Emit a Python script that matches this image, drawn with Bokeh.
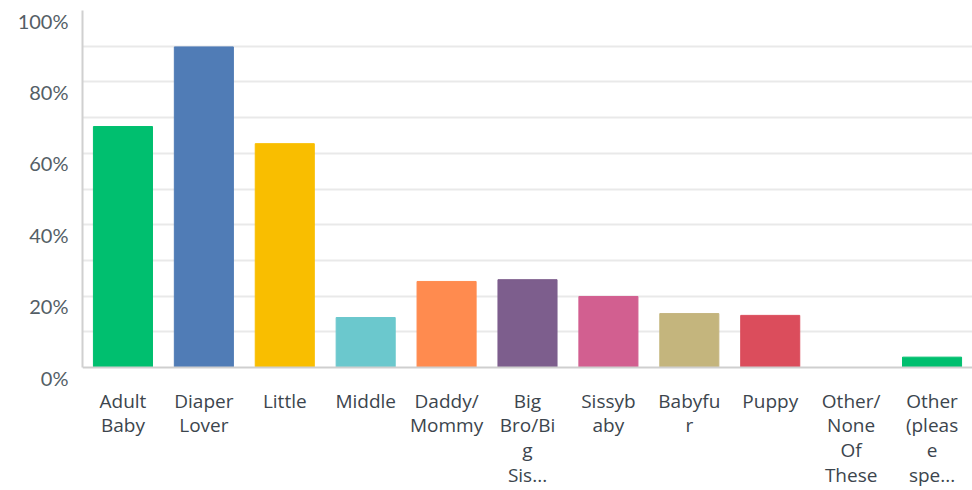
from bokeh.plotting import figure
from bokeh.models import FactorRange, Range1d, LinearAxis, FixedTicker, Span, ColumnDataSource, NumeralTickFormatter
from bokeh.embed import file_html
from bokeh.resources import INLINE

categories = ["Adult\nBaby", "Diaper\nLover", "Little", "Middle", "Daddy/\nMommy",
              "Big\nBro/Bi\ng\nSis...", "Sissyb\naby", "Babyfu\nr", "Puppy",
              "Other/\nNone\nOf\nThese", "Other\n(pleas\ne\nspe..."]
values = [0.675, 0.898, 0.627, 0.140, 0.241, 0.246, 0.199, 0.151, 0.146, 0.0, 0.029]
colors = ["#00BF6F", "#507CB6", "#F9BE00", "#6BC8CD", "#FF8B4F", "#7D5E8D",
          "#D25F90", "#C4B57D", "#DB4D5C", "#7AC2DD", "#00BF6F"]
y_ticks = [0, 0.2, 0.4, 0.6, 0.8, 1.0]
grid_ticks = [0.1, 0.2, 0.3, 0.4, 0.5, 0.6, 0.7, 0.8, 0.9]

frame_h = 367
d = 10 / 357.0  # label offset below grid, in data units

src = ColumnDataSource(dict(cat=categories, val=values, color=colors))

p = figure(x_range=FactorRange(*categories, range_padding=0),
           y_range=Range1d(-d, 1.0),
           frame_width=890, frame_height=frame_h,
           min_border_left=82, min_border_right=0, min_border_top=10, min_border_bottom=5,
           output_backend="svg", toolbar_location=None)
p.outline_line_color = None
p.background_fill_color = "white"

p.vbar(x="cat", top="val", bottom=0, width=0.73, color="color", source=src)

# grid
p.xgrid.visible = False
p.ygrid.ticker = FixedTicker(ticks=grid_ticks)
p.ygrid.grid_line_color = "#e9e9e9"
p.ygrid.grid_line_width = 2

# baseline
p.add_layout(Span(location=0, dimension="width", line_color="#cfcfcf", line_width=2))

# main y axis: just the line
ya = p.yaxis[0]
ya.ticker = FixedTicker(ticks=[])
ya.bounds = (0, 1.0)
ya.axis_line_color = "#d0d0d0"
ya.axis_line_width = 2
ya.major_tick_line_color = None
ya.minor_tick_line_color = None
ya.major_tick_out = 0
ya.major_tick_in = 0
ya.major_label_standoff = 0

# label axis, shifted a little below the grid lines
p.extra_y_ranges = {"lab": Range1d(0, 1.0 + d)}
la = LinearAxis(y_range_name="lab", ticker=FixedTicker(ticks=y_ticks),
                formatter=NumeralTickFormatter(format="0%"))
la.axis_line_color = None
la.major_tick_line_color = None
la.minor_tick_line_color = None
la.major_tick_out = 0
la.major_tick_in = 0
la.major_label_standoff = 14
la.major_label_text_font = "Lato"
la.major_label_text_font_size = "20px"
la.major_label_text_color = "#545e66"
p.add_layout(la, "left")

# x axis
xa = p.xaxis[0]
xa.axis_line_color = None
xa.major_tick_line_color = None
xa.minor_tick_line_color = None
xa.major_tick_out = 0
xa.major_tick_in = 0
xa.major_label_standoff = 10
xa.major_label_text_font = "Open Sans"
xa.major_label_text_font_size = "19px"
xa.major_label_text_color = "#3c454d"
xa.major_label_text_line_height = 0.95
xa.major_label_text_align = "left"

open("out.html", "w").write(file_html(p, INLINE))
